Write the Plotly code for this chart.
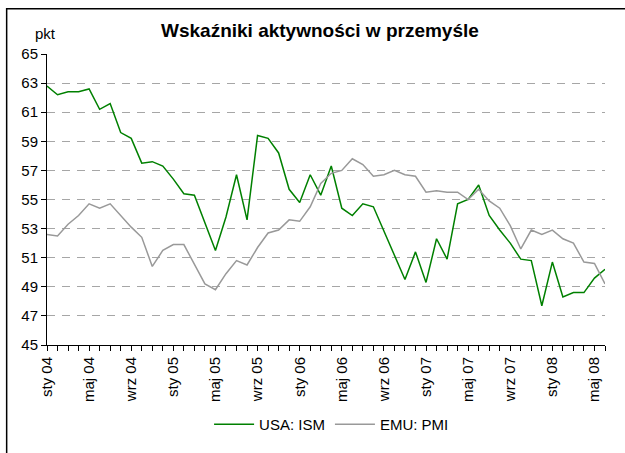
import plotly.graph_objects as go

# Monthly readings, January 2004 - June 2008
month_names = ["sty", "lut", "mar", "kwi", "maj", "cze",
               "lip", "sie", "wrz", "paź", "lis", "gru"]
years = ["04", "05", "06", "07", "08"]
months = [f"{m} {y}" for y in years for m in month_names][:54]

usa_ism = [62.8, 62.2, 62.4, 62.4, 62.6, 61.2, 61.6, 59.6, 59.2, 57.5,
           57.6, 57.3, 56.4, 55.4, 55.3, 53.4, 51.5, 53.8, 56.7, 53.6,
           59.4, 59.2, 58.2, 55.7, 54.8, 56.7, 55.3, 57.3, 54.4, 53.9,
           54.7, 54.5, 52.8, 51.2, 49.5, 51.4, 49.3, 52.3, 50.9, 54.7,
           55.0, 56.0, 53.9, 52.9, 52.0, 50.9, 50.8, 47.7, 50.7, 48.3,
           48.6, 48.6, 49.6, 50.2]

emu_pmi = [52.6, 52.5, 53.3, 53.9, 54.7, 54.4, 54.7, 53.9, 53.1, 52.4,
           50.4, 51.5, 51.9, 51.9, 50.5, 49.2, 48.8, 49.9, 50.8, 50.5,
           51.7, 52.7, 52.9, 53.6, 53.5, 54.5, 56.1, 56.8, 57.0, 57.8,
           57.4, 56.6, 56.7, 57.0, 56.7, 56.6, 55.5, 55.6, 55.5, 55.5,
           55.0, 55.7, 54.9, 54.4, 53.2, 51.6, 52.9, 52.6, 52.9, 52.3,
           52.0, 50.7, 50.6, 49.2]

x = list(range(len(months)))
label_idx = x[::4]
label_txt = [months[i] for i in label_idx]

FONT = "Liberation Sans, Arial, sans-serif"

fig = go.Figure()
fig.add_trace(go.Scatter(x=x, y=usa_ism, mode="lines", name="USA: ISM",
                         line=dict(color="#008000", width=1.5)))
fig.add_trace(go.Scatter(x=x, y=emu_pmi, mode="lines", name="EMU: PMI",
                         line=dict(color="#999999", width=1.5)))

fig.update_layout(
    width=625, height=453,
    margin=dict(l=47, r=20, t=54, b=101),
    paper_bgcolor="white", plot_bgcolor="white",
    font=dict(family=FONT, size=15, color="black"),
    showlegend=True,
    legend=dict(orientation="h", x=0.51, xanchor="center", y=-0.273,
                yanchor="middle", font=dict(size=15), itemwidth=40,
                tracegroupgap=0, bgcolor="rgba(0,0,0,0)"),
    xaxis=dict(range=[0, len(months) - 1], tickmode="array",
               tickvals=label_idx, ticktext=label_txt, tickangle=-90,
               ticks="outside", ticklen=5, tickcolor="black",
               showline=True, linecolor="black", linewidth=1,
               showgrid=False, zeroline=False,
               minor=dict(ticks="outside", ticklen=5, tickcolor="black",
                          tick0=0, dtick=1, showgrid=False)),
    yaxis=dict(range=[45, 65], tick0=45, dtick=2,
               ticks="outside", ticklen=5, tickcolor="black",
               showline=True, linecolor="black", linewidth=1,
               showgrid=True, gridcolor="#a6a6a6", gridwidth=1,
               griddash="8px,7px", zeroline=False),
    annotations=[
        dict(text="<b>Wskaźniki aktywności w przemyśle</b>",
             xref="paper", yref="paper", x=0.489, y=1.08,
             xanchor="center", yanchor="middle", showarrow=False,
             font=dict(size=19)),
        dict(text="pkt", xref="paper", yref="paper", x=-0.003, y=1.0716,
             xanchor="center", yanchor="middle", showarrow=False,
             font=dict(size=15)),
    ],
    shapes=[
        dict(type="rect", xref="paper", yref="paper",
             x0=-0.0723, x1=1.06, y0=-0.40, y1=1.1557,
             line=dict(color="black", width=1.5), layer="below"),
    ],
)

fig.write_html("out.html")
